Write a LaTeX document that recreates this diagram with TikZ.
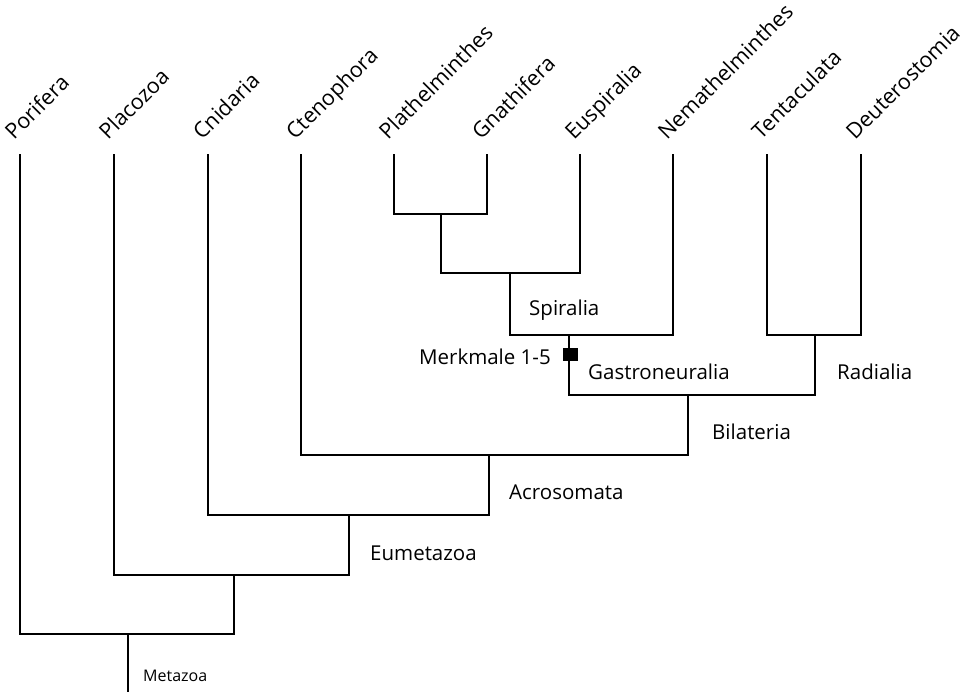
\documentclass[tikz,border=0pt]{standalone}
\usepackage{fontspec}
\setmainfont{Open Sans}
\begin{document}
\begin{tikzpicture}[x=1pt, y=-1pt,
   every node/.style={inner sep=0pt, font=\fontsize{20.5}{24}\selectfont},
   taxon/.style={rotate=45, anchor=base west, font=\fontsize{21.5}{25}\selectfont},
   clade/.style={anchor=west},
   branch/.style={line width=2.2pt, line cap=rect},
   marker/.style={fill=black, minimum width=15pt, minimum height=13pt}]
\useasboundingbox (0,0) rectangle (964,692);

% taxa at the tips
\foreach \x/\name/\txt in {20/porifera/Porifera, 114/placozoa/Placozoa,
    208/cnidaria/Cnidaria, 301/ctenophora/Ctenophora,
    394/plathelminthes/Plathelminthes, 487/gnathifera/Gnathifera,
    580/euspiralia/Euspiralia, 673/nemathelminthes/Nemathelminthes,
    767/tentaculata/Tentaculata, 861/deuterostomia/Deuterostomia}{
  \coordinate (\name) at (\x,155);
  \node[taxon] (\name-l) at (\x-6,141) {\txt};
}

% inner nodes
\coordinate (platgnat) at (441,214);
\coordinate (spiralia) at (510,273);
\coordinate (gastroneuralia) at (569,335);
\coordinate (radialia) at (815,335);
\coordinate (bilateria) at (688,395);
\coordinate (acrosomata) at (489,455);
\coordinate (eumetazoa) at (349,515);
\coordinate (placeum) at (234,575);
\coordinate (metazoa) at (128,634);
\coordinate (root) at (128,692);

\draw[branch] (plathelminthes) |- (platgnat) -| (gnathifera);
\draw[branch] (platgnat) |- (spiralia) -| (euspiralia);
\draw[branch] (spiralia) |- (gastroneuralia) -| (nemathelminthes);
\draw[branch] (tentaculata) |- (radialia) -| (deuterostomia);
\draw[branch] (gastroneuralia) |- (bilateria) -| (radialia);
\draw[branch] (ctenophora) |- (acrosomata) -| (bilateria);
\draw[branch] (cnidaria) |- (eumetazoa) -| (acrosomata);
\draw[branch] (placozoa) |- (placeum) -| (eumetazoa);
\draw[branch] (porifera) |- (metazoa) -| (placeum);
\draw[branch] (metazoa) -- (root);

% clade names
\node[clade] (spiralia-l) at ([shift={(19,37)}]spiralia) {Spiralia};
\node[clade] (gastroneuralia-l) at ([shift={(19,37)}]gastroneuralia) {Gastroneuralia};
\node[clade] (radialia-l) at ([shift={(22,37)}]radialia) {Radialia};
\node[clade] (bilateria-l) at ([shift={(24,37)}]bilateria) {Bilateria};
\node[clade] (acrosomata-l) at ([shift={(20,37)}]acrosomata) {Acrosomata};
\node[clade] (eumetazoa-l) at ([shift={(21,38)}]eumetazoa) {Eumetazoa};
\node[clade, font=\fontsize{16}{19}\selectfont] (metazoa-l) at ([shift={(15,42)}]metazoa) {Metazoa};

% apomorphies
\node[marker] (merkmal) at (570,355) {};
\node[anchor=east] (merkmal-l) at (551,357) {Merkmale 1-5};

\end{tikzpicture}
\end{document}
